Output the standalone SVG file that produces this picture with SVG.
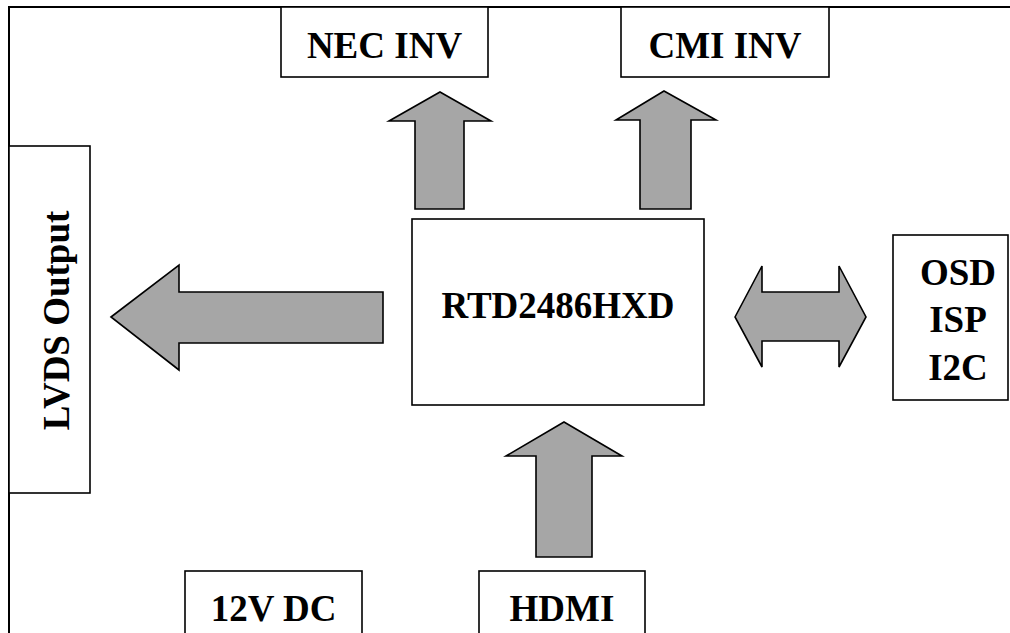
<svg xmlns="http://www.w3.org/2000/svg" width="1010" height="633" viewBox="0 0 1010 633">
<style>
.box{fill:#fff;stroke:#000;stroke-width:1.6}
.arr{fill:#a6a6a6;stroke:#000;stroke-width:1.6;stroke-linejoin:miter}
.t{font-family:"Liberation Serif","Times New Roman",serif;font-weight:bold;font-size:37px;fill:#000;text-anchor:middle}
</style>
<rect width="1010" height="633" fill="#fff"/>
<g id="frame">
<path d="M9,640 V7 H1015" fill="none" stroke="#000" stroke-width="2"/>
</g>
<g id="nec-inv"><rect class="box" x="281" y="7" width="207" height="70"/><text class="t" x="384.5" y="58">NEC INV</text></g>
<g id="cmi-inv"><rect class="box" x="621" y="7" width="208" height="70"/><text class="t" x="725" y="58">CMI INV</text></g>
<g id="lvds"><rect class="box" x="9" y="146" width="81" height="347"/><text class="t" transform="translate(69,320.5) rotate(-90)">LVDS Output</text></g>
<g id="rtd"><rect class="box" x="412" y="219" width="292" height="186"/><text class="t" x="558" y="318">RTD2486HXD</text></g>
<g id="osd"><rect class="box" x="893" y="235" width="115" height="165"/><text class="t" x="958" y="285">OSD</text><text class="t" x="958" y="332">ISP</text><text class="t" x="958" y="380">I2C</text></g>
<g id="dc12"><rect class="box" x="185" y="571" width="177" height="70"/><text class="t" x="273.5" y="621">12V DC</text></g>
<g id="hdmi"><rect class="box" x="479" y="571" width="166" height="70"/><text class="t" x="562" y="621">HDMI</text></g>
<g id="connectors">
<polygon class="arr" points="440,92 491,121 464,121 464,209 415,209 415,121 389,121"/>
<polygon class="arr" points="664,91 716,120 691,120 691,209 640,209 640,120 616,120"/>
<polygon class="arr" points="111,317 179,265 179,292 383,292 383,343 179,343 179,370"/>
<polygon class="arr" points="735,317 762,266 762,292 839,292 839,266 866,317 839,367 839,341 762,341 762,367"/>
<polygon class="arr" points="564,422 622,456 592,456 592,557 536,557 536,456 506,456"/>
</g>
</svg>
